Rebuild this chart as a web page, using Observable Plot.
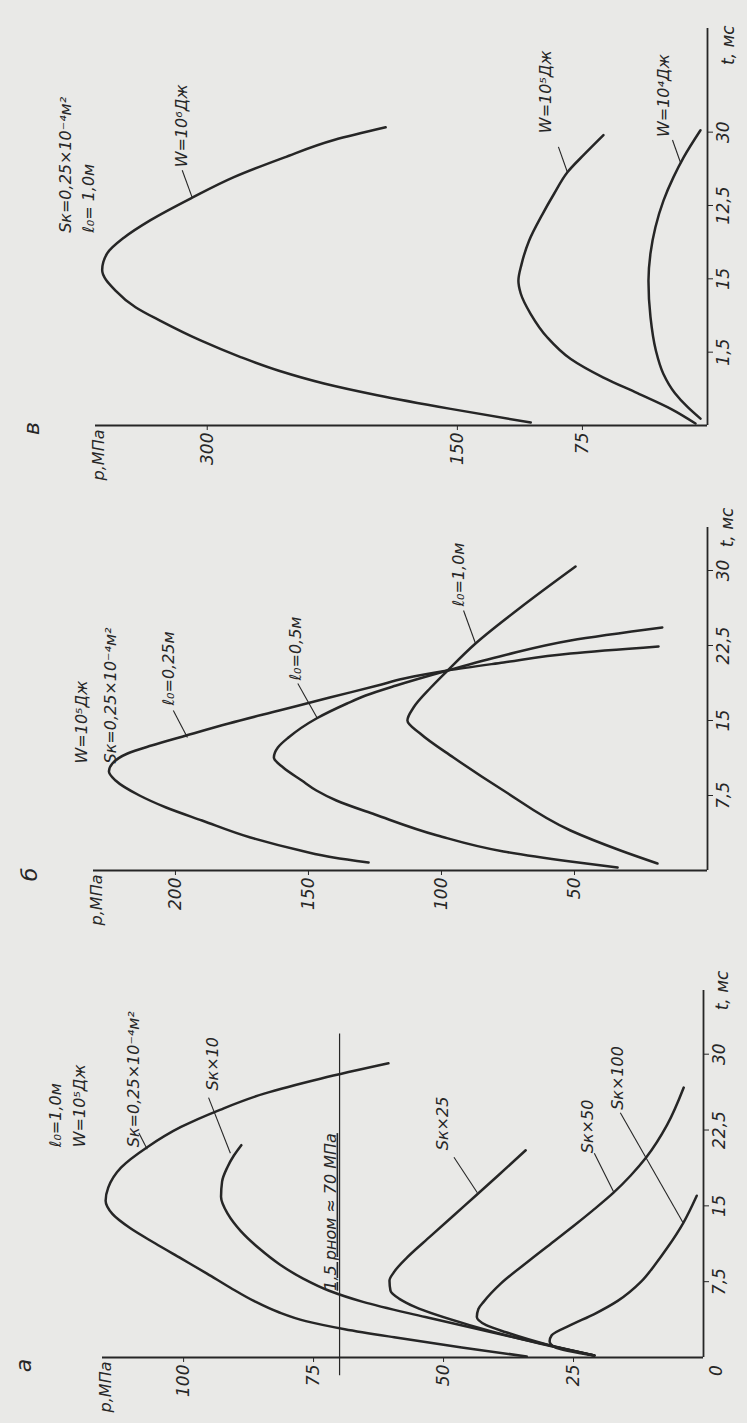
<!DOCTYPE html>
<html>
<head>
<meta charset="utf-8">
<script src="https://cdn.jsdelivr.net/npm/d3@7"></script>
<script src="https://cdn.jsdelivr.net/npm/@observablehq/plot@0.6"></script>
<style>
  html, body { margin: 0; padding: 0; background: #e9e9e7; }
  #chart { width: 747px; }
  #chart svg { display: block; overflow: visible; }
</style>
</head>
<body>
<div id="chart"></div>
<script>
// ---------------- Panel "в" (top) : W varies ----------------
const vW6T = [0.3,1.7,3.1,4.3,5.6,7,8.7,10.7,12.1,13.8,15.9,17.6,19.2,21,23.3,25.4,27.4,29.2,30.5];
const vW6P = [106,154,198,230,257,280,304,328,343,355,363,360,350,334,309,284,254,224,193];
const vW5T = [0.2,1.7,3.3,4.9,6.8,9,11.4,13.5,14.8,16.5,18.9,21.6,23.7,25.9,27.8,29.7];
const vW5P = [7.2,22,42,62.4,82,96,106,112,113.4,111.5,107,99,92,84,73.5,62.4];
const vW4T = [0.7,1.9,3.3,5.3,7.7,11.1,14.8,17.6,20.3,23,25.4,27.4,30.2];
const vW4P = [4.2,12,19.5,26.5,31,34.2,35.4,34.2,31.2,26.4,20.4,14.4,4.2];
const vTicksP = [75,150,300];
const vTicksT = [7.5,15,22.5,30];
const vTickLabelsT = ["1,5","15","12,5","30"];
const vNoteText = ["Sк=0,25×10⁻⁴м²","ℓ₀= 1,0м","W=10⁶Дж","W=10⁵Дж","W=10⁴Дж"];
const vNoteP = [385,371,315,97,26.4];
const vNoteT = [19.7,19.7,26.4,29.9,29.5];
const vLeaders = [[309,23.3,315,26.1],[84,25.9,89.4,28.5],[16.2,26.9,21,29.2]];

// ---------------- Panel "б" (middle) : l0 varies ----------------
const b025T = [0.8,1.3,2.0,3.3,5,6.3,7.5,9,9.9,10.7,11.7,12.5,13.5,14.7,16,17.3,18.5,19.2,20,20.8,21.7,22.4];
const b025P = [127.4,140.6,153,171.8,190,203.5,213.5,222.5,225,223.7,218,209,196,180,161,142,124,114,97.7,76.7,51.5,18.4];
const b05T = [0.3,0.9,1.9,3.5,5.6,7,8,9,10.3,11.3,12.3,13.3,15.2,16.7,17.5,18.5,20,21.5,23,24.3];
const b05P = [33.8,51.5,76.7,101.5,125,139.5,147,152.5,159.5,163,161.5,157.5,147,135.5,128.5,117,97.7,76.7,51.5,17];
const b10T = [0.7,2,4,8,11.3,13.7,15,16.3,18.3,20,22.7,26.3,30.4];
const b10P = [18.8,32.7,51.5,76.7,95.5,108,112.8,110.5,104,97.7,87.2,70.3,49.6];
const bTicksP = [50,100,150,200];
const abTicksT = [7.5,15,22.5,30];
const abTickLabelsT = ["7,5","15","22,5","30"];
const bNoteText = ["W=10⁵Дж","Sк=0,25×10⁻⁴м²","ℓ₀=0,25м","ℓ₀=0,5м","ℓ₀=1,0м"];
const bNoteP = [235,224.4,202.6,154.9,93.6];
const bNoteT = [10.7,10.7,16.5,19,26.4];
const bLeaders = [[195.5,13.3,200.8,16],[146.6,15.2,154,18.7],[87.2,22.7,91.7,26]];

// ---------------- Panel "а" (bottom) : Sk varies ----------------
const aBaseT = [0.1,1,2,2.8,3.6,4.5,5.6,6.9,8.3,9.8,11.3,12.8,14.2,15.5,16.8,18.8,20.8,22.8,24.5,26.1,27.6,29.1];
const aBaseP = [34,46.5,59.5,69,76.5,81.8,86.5,91,95.5,100.5,105.5,110.3,113.7,115,114.5,112,107,100.5,93,84.5,73.5,60.6];
const aX10T = [0.2,2,4,5.5,6.6,7.8,9.2,10.8,12.5,14.2,15.9,17.4,18.8,20,21];
const aX10P = [21,36.5,53.5,65.5,72,77,81.5,85.5,89,91.5,92.8,92.6,91.6,90.3,88.9];
const aX25T = [0.2,1.5,3.2,5,5.8,6.6,7.6,8.4,9.9,12,15,18,20.5];
const aX25P = [21,32.5,45,55.5,58.5,60.2,60.4,59.6,57,52.5,46,39.5,34.2];
const aX50T = [0.2,1.2,2.5,3.2,4,4.8,5.5,7.3,9.6,11.6,13,14.5,16.3,18,19.8,23,26.7];
const aX50P = [21,29.5,38,41.8,43.6,43.3,42.3,39,33.5,28.5,25,21.4,17.3,14,11,7,3.8];
const aX100T = [0.2,1,1.6,2.2,3.2,4.3,5.6,7.5,9.2,10.9,13.3,16];
const aX100P = [21,28.5,29.6,29.2,25.6,21,16.5,12,9.3,6.9,3.9,1.3];
const aTicksP = [25,50,75,100];
const aNoteText = ["ℓ₀=1,0м","W=10⁵Дж","Sк=0,25×10⁻⁴м²","Sк×10","Sк×25","Sк×50","Sк×100"];
const aNoteP = [124.6,120,109.6,94.4,50.2,22.3,16.5];
const aNoteT = [20.8,20.8,20.8,26.4,20.5,20.2,24.5];
const aLeaders = [[107,20.6,108.6,22.2],[91,20.2,95.2,25.7],[43.5,16.3,48,19.8],[17.2,16.3,21,20.2],[3.9,13.3,16,24.2]];
const aLimitP = 70;
const aLimitText = "1,5 pном ≈ 70 МПа";

const INK = "#262626";
const FONT = '"DejaVu Sans","Liberation Sans",sans-serif';
const FS = 17;
const NS = 16;

function panel(cfg) {
  const lines = cfg.curves.flatMap((c, k) => c[0].map((t, i) => ({k, t, p: c[1][i]})));
  const notes = cfg.noteText.map((text, i) => ({text, p: cfg.noteP[i], t: cfg.noteT[i]}));
  const leaders = cfg.leaders.map(([p1, t1, p2, t2]) => ({p1, t1, p2, t2}));
  const tLab = new Map(cfg.tTicks.map((d, i) => [d, cfg.tLabels[i]]));
  const marks = [
    Plot.ruleY([0], {stroke: INK, strokeWidth: 1.8}),
    Plot.ruleX([0], {stroke: INK, strokeWidth: 1.8}),
    Plot.axisX(cfg.pTicks, {anchor: "bottom", tickSize: 5, tickRotate: -90, tickPadding: 2,
      fontSize: FS, label: null, tickFormat: d => String(d)}),
    Plot.axisY(cfg.tTicks, {anchor: "right", tickSize: 5, tickRotate: -90, tickPadding: 4,
      textAnchor: "middle", lineAnchor: "top", fontSize: FS, label: null, tickFormat: d => tLab.get(d)}),
    Plot.line(lines, {x: "p", y: "t", z: "k", curve: "monotone-y", stroke: INK, strokeWidth: 2.5,
      strokeLinecap: "round", strokeLinejoin: "round"}),
    Plot.link(leaders, {x1: "p1", y1: "t1", x2: "p2", y2: "t2", stroke: INK, strokeWidth: 1.1}),
    Plot.text(notes, {x: "p", y: "t", text: "text", rotate: -90, textAnchor: "start", lineAnchor: "middle",
      fontSize: NS, fill: INK}),
    Plot.text([{p: cfg.pMax, t: 0, s: "p,МПа"}], {x: "p", y: "t", text: "s", rotate: -90, textAnchor: "end",
      lineAnchor: "middle", dx: 3, dy: 4, fontSize: 16, fill: INK}),
    Plot.text([{p: 0, t: cfg.tLabelT, s: "t, мс"}], {x: "p", y: "t", text: "s", rotate: -90, textAnchor: "middle",
      lineAnchor: "middle", dx: cfg.tLabelDx, fontSize: FS, fill: INK}),
    Plot.text([{p: cfg.letterP, t: cfg.letterT, s: cfg.letter}], {x: "p", y: "t", text: "s", rotate: -90,
      textAnchor: "middle", lineAnchor: "middle", fontSize: 22, fill: INK})
  ];
  if (cfg.extra) marks.push(...cfg.extra);
  return Plot.plot({
    width: 747, height: cfg.height,
    marginTop: cfg.marginTop, marginBottom: cfg.marginBottom,
    marginLeft: cfg.marginLeft, marginRight: cfg.marginRight,
    style: {background: "transparent", color: INK, fontFamily: FONT, fontStyle: "italic", overflow: "visible"},
    x: {domain: [cfg.pMax, 0], axis: null},
    y: {domain: [0, cfg.tTop], axis: null},
    marks
  });
}

const chart = document.getElementById("chart");

chart.appendChild(panel({
  height: 480, marginTop: 28, marginBottom: 55, marginLeft: 95, marginRight: 40,
  pMax: 367, tTop: 40.6, tLabelT: 38.9, tLabelDx: 21,
  curves: [[vW6T, vW6P], [vW5T, vW5P], [vW4T, vW4P]],
  noteText: vNoteText, noteP: vNoteP, noteT: vNoteT, leaders: vLeaders,
  pTicks: vTicksP, tTicks: vTicksT, tLabels: vTickLabelsT,
  letter: "в", letterP: 405, letterT: -0.3
}));

chart.appendChild(panel({
  height: 485, marginTop: 47, marginBottom: 95, marginLeft: 93, marginRight: 40,
  pMax: 230.8, tTop: 34.3, tLabelT: 34.3, tLabelDx: 20,
  curves: [[b025T, b025P], [b05T, b05P], [b10T, b10P]],
  noteText: bNoteText, noteP: bNoteP, noteT: bNoteT, leaders: bLeaders,
  pTicks: bTicksP, tTicks: abTicksT, tLabels: abTickLabelsT,
  letter: "б", letterP: 254.5, letterT: -0.4
}));

const aPanel = panel({
  height: 458, marginTop: 25, marginBottom: 66, marginLeft: 102, marginRight: 44,
  pMax: 115.6, tTop: 36.3, tLabelT: 36.3, tLabelDx: 19,
  curves: [[aBaseT, aBaseP], [aX10T, aX10P], [aX25T, aX25P], [aX50T, aX50P], [aX100T, aX100P]],
  noteText: aNoteText, noteP: aNoteP, noteT: aNoteT, leaders: aLeaders,
  pTicks: aTicksP, tTicks: abTicksT, tLabels: abTickLabelsT,
  letter: "а", letterP: 130.8, letterT: -0.8,
  extra: [
    Plot.ruleX([aLimitP], {y1: -1.8, y2: 32, stroke: INK, strokeWidth: 1.2}),
    Plot.text([{p: aLimitP, t: 6.6, s: aLimitText}], {x: "p", y: "t", text: "s", rotate: -90,
      textAnchor: "start", lineAnchor: "bottom", dx: -4, fontSize: NS, fill: INK}),
    Plot.text([{p: 0, t: 0, s: "0"}], {x: "p", y: "t", text: "s", rotate: -90, textAnchor: "middle",
      lineAnchor: "middle", dx: 13, dy: 13, fontSize: FS, fill: INK})
  ]
});
chart.appendChild(aPanel);
d3.select(aPanel).selectAll("text")
  .filter(function () { return this.textContent === aLimitText; })
  .style("text-decoration", "underline");
</script>
</body>
</html>
